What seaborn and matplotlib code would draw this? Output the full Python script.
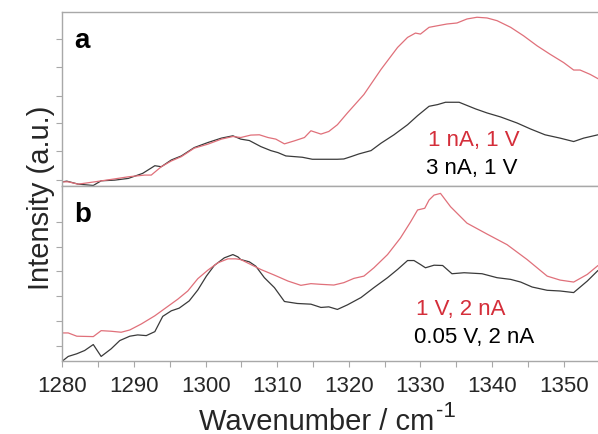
import numpy as np
import pandas as pd
import matplotlib
matplotlib.use("Agg")
import matplotlib.pyplot as plt
from matplotlib.ticker import MultipleLocator
import seaborn as sns

# Panel a: 1 nA, 1 V (red) and 3 nA, 1 V (black)
a_red_wn = [1280.0, 1280.8, 1282.2, 1284.5, 1286.8, 1289.2, 1291.5, 1292.4, 1293.8, 1295.2,
            1296.6, 1298.4, 1300.3, 1302.2, 1303.8, 1304.9, 1306.3, 1307.5, 1308.7, 1309.8,
            1311.0, 1312.4, 1313.8, 1314.7, 1316.1, 1317.2, 1318.4, 1319.8, 1322.1, 1324.5,
            1326.8, 1328.2, 1329.3, 1330.0, 1331.2, 1332.4, 1333.7, 1335.1, 1336.5, 1337.9,
            1339.3, 1340.7, 1342.6, 1344.4, 1346.3, 1348.1, 1350.0, 1351.4, 1352.3, 1353.7,
            1354.8]
a_red_int = [4.3, 4.3, 2.0, 4.3, 6.7, 9.3, 11.0, 11.0, 19.3, 25.0,
             29.3, 37.7, 41.7, 46.7, 49.3, 48.3, 50.7, 51.0, 48.3, 46.7,
             42.0, 45.0, 48.3, 55.0, 51.7, 54.3, 61.0, 72.7, 91.0, 116.0,
             137.7, 147.7, 152.0, 151.0, 157.7, 159.3, 161.0, 162.0, 166.0, 167.7,
             167.0, 164.3, 157.7, 149.3, 139.3, 131.0, 122.7, 115.3, 115.3, 111.0,
             106.7]

a_blk_wn = [1280.0, 1280.6, 1282.2, 1284.3, 1285.4, 1287.3, 1289.2, 1291.2, 1292.9, 1293.8,
            1295.2, 1296.6, 1298.4, 1300.3, 1302.2, 1303.8, 1304.9, 1306.1, 1307.7, 1309.1,
            1310.1, 1311.2, 1313.5, 1314.9, 1317.0, 1318.4, 1319.3, 1320.3, 1321.4, 1323.1,
            1324.5, 1326.3, 1328.2, 1329.6, 1331.2, 1332.4, 1333.5, 1335.4, 1337.7, 1339.3,
            1341.2, 1343.5, 1345.4, 1347.4, 1349.5, 1351.4, 1352.8, 1354.8]
a_blk_int = [4.3, 5.0, 2.0, 0.7, 5.3, 6.0, 7.7, 12.7, 20.3, 19.3,
             26.0, 30.0, 38.3, 43.3, 47.7, 50.0, 46.7, 45.3, 39.3, 35.3,
             33.3, 30.0, 28.7, 26.7, 26.7, 26.7, 27.0, 29.3, 32.0, 35.3,
             42.7, 51.0, 61.0, 70.0, 79.3, 81.0, 83.3, 83.3, 76.7, 72.7,
             68.7, 62.7, 56.7, 51.0, 47.7, 44.3, 47.7, 51.0]

# Panel b: 1 V, 2 nA (red) and 0.05 V, 2 nA (black)
b_red_wn = [1280.1, 1280.8, 1282.0, 1284.3, 1285.4, 1286.8, 1288.2, 1289.4, 1291.0, 1292.9,
            1294.7, 1296.1, 1297.5, 1298.9, 1300.3, 1301.7, 1303.1, 1304.2, 1304.9, 1306.3,
            1307.7, 1309.6, 1311.5, 1313.3, 1314.7, 1316.1, 1317.9, 1319.3, 1320.7, 1322.1,
            1323.5, 1325.4, 1327.2, 1328.6, 1329.6, 1330.6, 1331.2, 1331.9, 1332.8, 1334.2,
            1336.5, 1339.3, 1342.1, 1344.9, 1347.7, 1349.5, 1351.4, 1353.3, 1354.8]
b_red_int = [28.0, 28.0, 24.7, 24.3, 30.3, 29.7, 28.7, 31.0, 37.0, 45.3,
             54.7, 62.0, 70.3, 82.7, 91.3, 98.7, 102.7, 102.7, 102.0, 97.0,
             92.0, 86.3, 80.3, 76.0, 77.7, 77.0, 76.3, 78.7, 83.0, 85.3,
             93.7, 107.0, 123.7, 139.7, 152.0, 153.7, 162.0, 167.0, 168.7, 155.3,
             138.7, 127.7, 117.0, 102.0, 85.3, 81.3, 79.3, 87.0, 96.0]

b_blk_wn = [1280.1, 1280.8, 1282.0, 1283.1, 1284.3, 1285.4, 1286.8, 1288.0, 1289.4, 1290.5,
            1291.7, 1292.9, 1294.0, 1295.2, 1296.3, 1297.7, 1298.9, 1300.1, 1301.2, 1302.6,
            1303.8, 1304.5, 1304.9, 1306.1, 1307.0, 1308.2, 1309.6, 1311.0, 1312.8, 1314.7,
            1316.1, 1317.2, 1318.4, 1319.8, 1321.7, 1323.5, 1325.4, 1326.8, 1328.2, 1329.1,
            1330.0, 1330.7, 1331.9, 1333.1, 1334.4, 1336.1, 1338.6, 1340.7, 1342.6, 1344.0,
            1345.6, 1347.7, 1349.5, 1351.4, 1353.3, 1354.8]
b_blk_int = [0.3, 4.3, 7.0, 10.3, 16.3, 4.3, 12.0, 20.3, 24.7, 26.0,
             25.3, 29.3, 44.7, 50.3, 53.0, 60.3, 71.3, 85.3, 96.0, 103.7,
             107.0, 104.7, 102.0, 99.7, 95.3, 83.7, 73.7, 59.7, 57.7, 57.0,
             53.7, 54.3, 51.7, 56.3, 63.7, 73.7, 83.7, 92.0, 101.0, 101.0,
             97.0, 93.7, 96.3, 96.0, 87.7, 88.7, 87.7, 83.7, 82.0, 79.3,
             74.3, 71.0, 70.3, 68.7, 80.3, 91.0]

labels_a = ["1 nA, 1 V", "3 nA, 1 V"]
labels_b = ["1 V, 2 nA", "0.05 V, 2 nA"]
yticks_a = [6, 35, 63, 90, 118, 146]
yticks_b = [15, 40, 65, 90, 115, 140]

sns.set_theme(style="white")
plt.rcParams["font.family"] = ["Liberation Sans", "DejaVu Sans"]

RED_LINE = "#e0707a"
RED_TEXT = "#d42e3a"
BLK_LINE = "#3a3a3a"
FRAME = "#a8a8a8"

fig, (ax1, ax2) = plt.subplots(2, 1, figsize=(5.98, 4.35), dpi=100, sharex=True)
fig.subplots_adjust(left=0.1045, right=1.0, top=0.971, bottom=0.1685, hspace=0)

panels = [
    (ax1, a_red_wn, a_red_int, a_blk_wn, a_blk_int, yticks_a, "a", 173.3),
    (ax2, b_red_wn, b_red_int, b_blk_wn, b_blk_int, yticks_b, "b", 176.0),
]
for ax, rw, ri, bw, bi, yt, letter, ytop in panels:
    df_r = pd.DataFrame({"wn": rw, "I": ri})
    df_b = pd.DataFrame({"wn": bw, "I": bi})
    sns.lineplot(data=df_b, x="wn", y="I", ax=ax, color=BLK_LINE, lw=0.9)
    sns.lineplot(data=df_r, x="wn", y="I", ax=ax, color=RED_LINE, lw=0.9)
    ax.set_ylim(0, ytop)
    ax.set_xlim(1280, 1354.8)
    ax.set_yticks(yt)
    ax.set_yticklabels([])
    ax.set_xlabel("")
    ax.set_ylabel("")
    ax.xaxis.set_major_locator(MultipleLocator(10))
    ax.xaxis.set_minor_locator(MultipleLocator(5))
    ax.tick_params(axis="both", which="both", direction="out", color=FRAME,
                   length=4, width=0.8, labelsize=16, pad=6)
    ax.tick_params(axis="x", which="both", bottom=True)
    ax.tick_params(axis="y", left=True)
    for side in ["top", "left", "bottom"]:
        ax.spines[side].set_color(FRAME)
        ax.spines[side].set_linewidth(1.0)
    ax.spines["right"].set_visible(False)
    ax.text(0.022, 0.84, letter, transform=ax.transAxes, fontsize=20,
            fontweight="bold", va="center", ha="left", color="black")

ax1.text(0.682, 0.27, labels_a[0], transform=ax1.transAxes, fontsize=16,
         color=RED_TEXT, va="center", ha="left")
ax1.text(0.679, 0.105, labels_a[1], transform=ax1.transAxes, fontsize=16,
         color="black", va="center", ha="left")
ax2.text(0.66, 0.30, labels_b[0], transform=ax2.transAxes, fontsize=16,
         color=RED_TEXT, va="center", ha="left")
ax2.text(0.656, 0.14, labels_b[1], transform=ax2.transAxes, fontsize=16,
         color="black", va="center", ha="left")

ax1.tick_params(axis="x", labelbottom=False)

# x label with a plain hyphen superscript, as in the original
xl = ax2.set_xlabel("Wavenumber / cm", fontsize=21, labelpad=8)
ax2.xaxis.label.set_x(0.475)
fig.canvas.draw()
bb = xl.get_window_extent()
fig.text(bb.x1 / fig.bbox.width + 0.002, (bb.y1 - 4) / fig.bbox.height, "-1",
         fontsize=16, ha="left", va="center")
fig.supylabel("Intensity (a.u.)", fontsize=21, x=0.045, y=0.545)

plt.savefig("out.png", dpi=100)
